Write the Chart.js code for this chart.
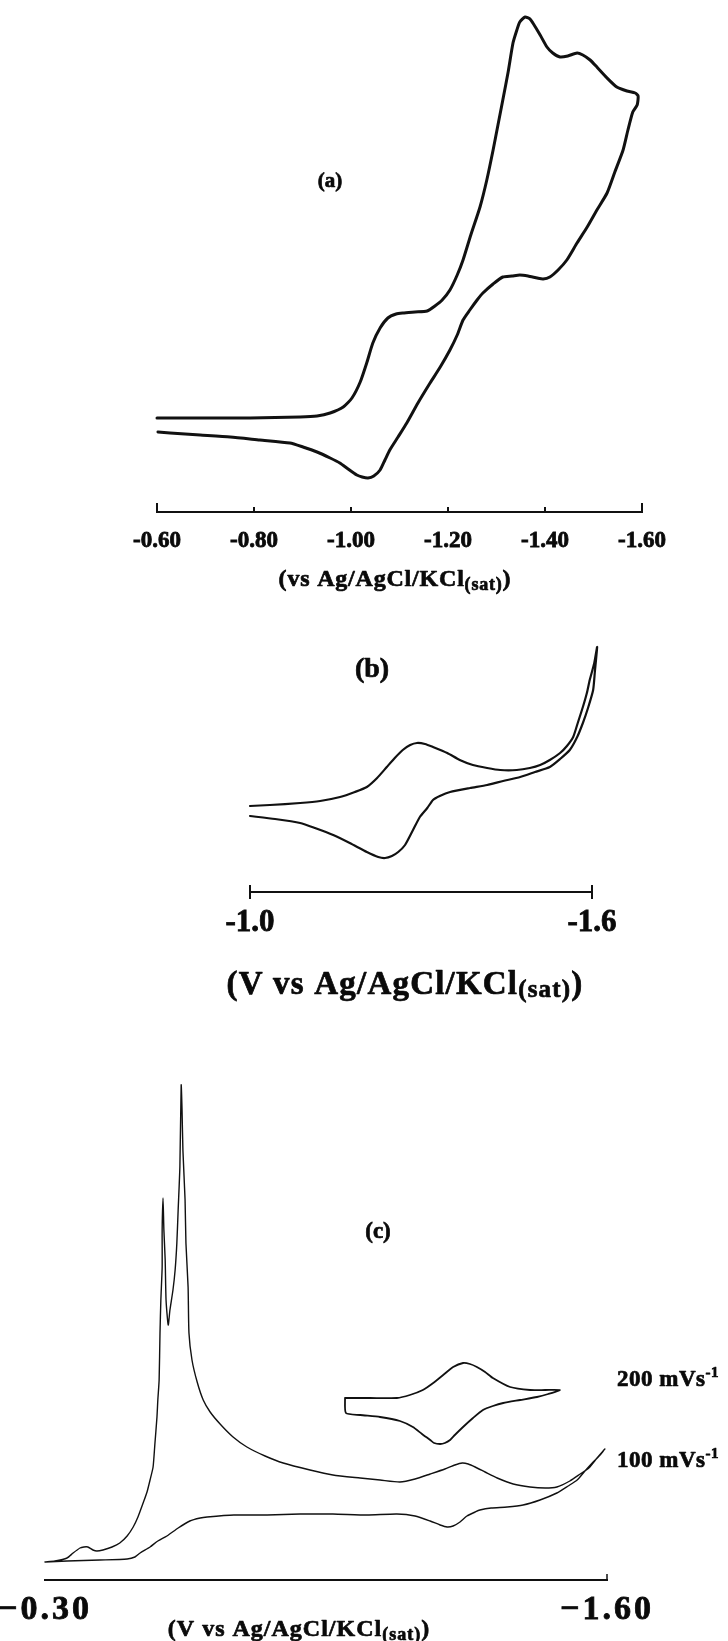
<!DOCTYPE html>
<html>
<head>
<meta charset="utf-8">
<script src="https://cdn.jsdelivr.net/npm/chart.js@4.4.1/dist/chart.umd.min.js"></script>
<style>
  html, body { margin: 0; padding: 0; background: #fff; }
  #page { position: relative; width: 728px; height: 1641px; overflow: hidden; background: #fff; }
  .panel { position: absolute; left: 0; width: 728px; }
  .panel canvas { display: block; }
</style>
</head>
<body>
<div id="page">
  <div class="panel" style="top:0px;height:600px"><canvas id="cvA" width="728" height="600"></canvas></div>
  <div class="panel" style="top:600px;height:410px"><canvas id="cvB" width="728" height="410"></canvas></div>
  <div class="panel" style="top:1010px;height:631px"><canvas id="cvC" width="728" height="631"></canvas></div>
</div>
<script>
// ---------- Panel (a): potential (V) and current (arbitrary units) ----------
const aTicks = [-0.6, -0.8, -1.0, -1.2, -1.4, -1.6];
// forward scan to -1.6 V, then return sweep
const aPotential = [
  -0.600, -0.689, -0.792, -0.895, -0.930, -0.957, -0.984, -1.002, -1.019, -1.033,
  -1.045, -1.060, -1.076, -1.093, -1.107, -1.132, -1.157, -1.173, -1.188, -1.204,
  -1.219, -1.231, -1.247, -1.266, -1.280, -1.293, -1.303, -1.313, -1.324, -1.334,
  -1.342, -1.348, -1.359, -1.369, -1.375, -1.390, -1.404, -1.416, -1.431, -1.447,
  -1.466, -1.478, -1.493, -1.507, -1.528, -1.548, -1.569, -1.586, -1.592,
  -1.590, -1.581, -1.571, -1.561, -1.544, -1.528, -1.507, -1.487, -1.466, -1.445,
  -1.427, -1.410, -1.396, -1.384, -1.365, -1.348, -1.332, -1.313, -1.293, -1.272,
  -1.260, -1.245, -1.231, -1.219, -1.204, -1.184, -1.163, -1.138, -1.115, -1.097,
  -1.080, -1.070, -1.060, -1.047, -1.035, -1.023, -1.012, -0.994, -0.977, -0.957,
  -0.930, -0.901, -0.874, -0.812, -0.751, -0.689, -0.627, -0.602
];
const aCurrent = [
  9.4, 9.4, 9.4, 9.5, 9.6, 9.9, 10.5, 11.4, 13.0, 15.0,
  16.9, 18.4, 19.4, 19.8, 19.9, 20.0, 20.1, 20.6, 21.2, 22.2,
  23.7, 25.2, 27.7, 30.5, 33.2, 36.2, 38.7, 41.2, 44.0, 46.9,
  48.2, 49.0, 49.5, 49.3, 48.9, 47.7, 46.5, 45.9, 45.5, 45.6,
  45.9, 45.7, 45.2, 44.5, 43.4, 42.5, 42.1, 41.9, 41.6,
  40.7, 40.0, 38.2, 36.2, 34.0, 31.9, 30.2, 28.5, 26.9, 25.2,
  24.2, 23.5, 23.3, 23.4, 23.6, 23.7, 23.6, 23.5, 22.8, 21.9,
  21.2, 20.2, 19.2, 17.7, 16.2, 14.5, 12.9, 10.9, 8.9, 7.5,
  6.2, 5.2, 4.2, 3.6, 3.4, 3.5, 3.7, 4.3, 4.9, 5.4,
  6.0, 6.5, 6.9, 7.2, 7.5, 7.7, 7.9, 8.0
];

// ---------- Panel (b) ----------
const bTicks = [-1.0, -1.6];
const bPotential = [
  -1.000, -1.035, -1.088, -1.123, -1.158, -1.184, -1.205, -1.223, -1.240, -1.254,
  -1.268, -1.281, -1.293, -1.307, -1.321, -1.346, -1.368, -1.391, -1.416, -1.439,
  -1.468, -1.491, -1.509, -1.526, -1.544, -1.556, -1.567, -1.575, -1.584, -1.591,
  -1.596, -1.604, -1.609,
  -1.605, -1.602, -1.593, -1.584, -1.574, -1.561, -1.544, -1.526, -1.500, -1.474,
  -1.444, -1.416, -1.386, -1.351, -1.333, -1.321, -1.311, -1.298, -1.286, -1.272,
  -1.260, -1.249, -1.237, -1.225, -1.205, -1.175, -1.146, -1.114, -1.088, -1.044,
  -1.000
];
const bCurrent = [
  8.6, 8.7, 8.9, 9.1, 9.5, 10.0, 10.5, 11.4, 12.5, 13.4,
  14.2, 14.7, 14.9, 14.8, 14.5, 13.9, 13.2, 12.7, 12.4, 12.2,
  12.2, 12.4, 12.7, 13.2, 13.9, 14.6, 15.5, 16.9, 18.5, 19.9,
  21.2, 22.9, 24.5,
  22.0, 20.2, 18.4, 16.9, 15.5, 14.2, 13.3, 12.5, 12.0, 11.5,
  11.1, 10.7, 10.4, 10.0, 9.6, 9.2, 8.4, 7.5, 6.2, 4.7,
  4.0, 3.6, 3.4, 3.5, 4.0, 4.9, 5.7, 6.4, 6.9, 7.3,
  7.6
];

// ---------- Panel (c): two scan rates ----------
const cTicks = [-0.3, -1.6];
const c100Potential = [
  -0.300, -0.351, -0.427, -0.490, -0.508, -0.520, -0.543, -0.561, -0.582, -0.608,
  -0.635, -0.659, -0.675, -0.737, -0.814, -0.890, -0.966, -1.045, -1.114, -1.156,
  -1.191, -1.214, -1.230, -1.244, -1.260, -1.276, -1.295, -1.306, -1.332, -1.369,
  -1.406, -1.445, -1.484, -1.510, -1.531, -1.549, -1.568, -1.584, -1.595,
  -1.577, -1.558, -1.538, -1.514, -1.484, -1.457, -1.422, -1.383, -1.346, -1.318,
  -1.295, -1.279, -1.265, -1.248, -1.225, -1.191, -1.156, -1.121, -1.075, -1.029,
  -0.966, -0.913, -0.851, -0.809, -0.767, -0.735, -0.705, -0.682, -0.666, -0.652,
  -0.640, -0.633, -0.631, -0.626, -0.624, -0.619, -0.617, -0.615,
  -0.612, -0.608, -0.605, -0.601, -0.596, -0.589, -0.585,
  -0.580, -0.578, -0.575, -0.573,
  -0.571, -0.571, -0.568, -0.566, -0.564, -0.561, -0.559, -0.554, -0.550, -0.543,
  -0.536, -0.527, -0.515, -0.504, -0.490, -0.473, -0.455, -0.434, -0.420, -0.411,
  -0.399, -0.390, -0.381, -0.365, -0.351, -0.323, -0.300
];
const c100Current = [
  1.8, 1.9, 2.0, 2.1, 2.3, 2.7, 3.3, 3.9, 4.4, 5.2,
  5.9, 6.2, 6.3, 6.5, 6.5, 6.6, 6.6, 6.5, 6.6, 6.4,
  5.9, 5.5, 5.3, 5.4, 5.8, 6.4, 6.8, 7.0, 7.2, 7.3,
  7.5, 8.0, 8.7, 9.4, 10.0, 10.9, 11.8, 12.5, 13.1,
  12.2, 11.2, 10.6, 9.9, 9.3, 9.2, 9.3, 9.6, 10.2, 10.8,
  11.3, 11.6, 11.7, 11.5, 11.1, 10.6, 10.1, 9.8, 10.0, 10.2,
  10.5, 11.0, 11.7, 12.4, 13.3, 14.3, 15.6, 16.8, 18.0, 19.8,
  22.0, 24.7, 29.3, 33.7, 38.0, 43.0, 47.0, 49.5,
  41.3, 37.0, 33.7, 31.0, 29.0, 27.0, 25.5,
  28.0, 32.0, 35.0, 38.2,
  35.0, 31.3, 28.0, 24.7, 20.0, 18.0, 16.3, 13.5, 11.3, 10.0,
  8.8, 7.7, 6.3, 5.3, 4.4, 3.7, 3.3, 3.0, 2.9, 3.0,
  3.3, 3.3, 3.2, 2.7, 2.2, 1.9, 1.8
];
const c200Potential = [
  -0.994, -1.052, -1.114, -1.144, -1.174, -1.198, -1.221, -1.244, -1.267, -1.283,
  -1.299, -1.318, -1.336, -1.376, -1.422, -1.457, -1.491,
  -1.464, -1.438, -1.399, -1.360, -1.336, -1.313, -1.290, -1.267, -1.248, -1.237,
  -1.225, -1.214, -1.200, -1.191, -1.172, -1.151, -1.121, -1.075, -1.029, -0.996,
  -0.994
];
const c200Current = [
  18.2, 18.2, 18.2, 18.5, 19.0, 19.7, 20.5, 21.3, 21.7, 21.6,
  21.3, 20.8, 20.2, 19.3, 19.0, 19.0, 19.0,
  18.6, 18.3, 18.0, 17.7, 17.4, 17.0, 16.2, 15.3, 14.5, 14.0,
  13.7, 13.6, 13.7, 14.0, 14.6, 15.3, 15.9, 16.3, 16.5, 16.7,
  18.2
];

// ---------- text drawn on the panels ----------
const SERIF = '"Liberation Serif", "Times New Roman", serif';
const INK = '#0a0a0a';
const labelA = '(a)', labelB = '(b)', labelC = '(c)';
const refMain = 'vs Ag/AgCl/KCl';
const refSub = '(sat)';
const rate200 = '200 mVs', rate100 = '100 mVs', rateUnitSup = '-1';

function pts(xs, ys) { return xs.map((x, i) => ({ x: x, y: ys[i] })); }

// heavy serif text made of runs (for sub- and superscripts)
function drawRich(ctx, segs, x, y, spacing, align) {
  ctx.save();
  ctx.fillStyle = INK;
  ctx.strokeStyle = INK;
  ctx.lineWidth = 0.7;
  ctx.lineJoin = 'round';
  ctx.textBaseline = 'middle';
  ctx.textAlign = 'left';
  ctx.letterSpacing = spacing + 'px';
  let total = 0;
  segs.forEach(s => { ctx.font = 'bold ' + s.size + 'px ' + SERIF; s.w = ctx.measureText(s.t).width; total += s.w; });
  let cx = align === 'left' ? x : x - total / 2;
  segs.forEach(s => {
    ctx.font = 'bold ' + s.size + 'px ' + SERIF;
    ctx.fillText(s.t, cx, y + (s.dy || 0));
    ctx.strokeText(s.t, cx, y + (s.dy || 0));
    cx += s.w;
  });
  ctx.restore();
}

function xScale(min, max, ticks, fmt, fontSize, pad, axisH, borderW) {
  return {
    type: 'linear', position: 'bottom', reverse: true, min: min, max: max,
    grid: { display: false, drawTicks: false },
    border: { display: true, color: '#111', width: borderW },
    ticks: {
      autoSkip: false, maxRotation: 0, padding: pad, color: INK,
      textStrokeColor: INK, textStrokeWidth: 0.8,
      font: { family: SERIF, weight: 'bold', size: fontSize },
      callback: fmt
    },
    afterBuildTicks: s => { s.ticks = ticks.map(v => ({ value: v })); },
    afterFit: s => { s.height = axisH; s.paddingLeft = 0; s.paddingRight = 0; }
  };
}

function curve(data, width) {
  return {
    data: data, showLine: true, fill: false, pointRadius: 0, borderColor: '#111',
    borderWidth: width, tension: 0.2, clip: false, borderJoinStyle: 'round', borderCapStyle: 'round'
  };
}

const base = {
  responsive: false, animation: false, events: [],
  plugins: { legend: { display: false }, tooltip: { enabled: false } }
};

// tick marks drawn at the scale's own tick positions
function tickMarks(fn) {
  return { id: 'tickMarks', afterDraw(chart) { fn(chart.ctx, chart.scales.x, chart.chartArea); } };
}
function decor(fn) { return { id: 'decor', afterDraw(chart) { fn(chart.ctx, chart); } }; }

// ----- chart (a) -----
new Chart(document.getElementById('cvA'), {
  type: 'scatter',
  data: { datasets: [curve(pts(aPotential, aCurrent), 3)] },
  options: Object.assign({}, base, {
    layout: { padding: { left: 157, right: 728 - 642, top: 12, bottom: 600 - 512 - 50 } },
    scales: {
      x: xScale(-1.6, -0.6, aTicks, v => v.toFixed(2), 23, 15, 50, 2),
      y: { display: false, min: 0, max: 50 }
    }
  }),
  plugins: [
    tickMarks((ctx, sx, area) => {
      ctx.save(); ctx.strokeStyle = '#111'; ctx.lineWidth = 2;
      aTicks.forEach((v, i) => {
        const px = sx.getPixelForValue(v);
        const h = (i === 0 || i === aTicks.length - 1) ? 9 : 5;
        ctx.beginPath(); ctx.moveTo(px, area.bottom); ctx.lineTo(px, area.bottom - h); ctx.stroke();
      });
      ctx.restore();
    }),
    decor(ctx => {
      drawRich(ctx, [{ t: labelA, size: 21 }], 330, 182, 0);
      drawRich(ctx, [{ t: '(' + refMain, size: 24 }, { t: refSub, size: 18, dy: 5 }, { t: ')', size: 24 }], 395, 580, 0.8);
    })
  ]
});

// ----- chart (b) -----
new Chart(document.getElementById('cvB'), {
  type: 'scatter',
  data: { datasets: [curve(pts(bPotential, bCurrent), 2.2)] },
  options: Object.assign({}, base, {
    layout: { padding: { left: 250, right: 728 - 592, top: 32, bottom: 410 - 292 - 50 } },
    scales: {
      x: xScale(-1.6, -1.0, bTicks, v => v.toFixed(1), 31, 12, 50, 2),
      y: { display: false, min: 0, max: 26 }
    }
  }),
  plugins: [
    tickMarks((ctx, sx, area) => {
      ctx.save(); ctx.strokeStyle = '#111'; ctx.lineWidth = 2;
      bTicks.forEach(v => {
        const px = sx.getPixelForValue(v);
        ctx.beginPath(); ctx.moveTo(px, area.bottom - 7); ctx.lineTo(px, area.bottom + 7); ctx.stroke();
      });
      ctx.restore();
    }),
    decor(ctx => {
      drawRich(ctx, [{ t: labelB, size: 28 }], 372, 70, 0);
      drawRich(ctx, [{ t: '(V ' + refMain, size: 33 }, { t: refSub, size: 25, dy: 6 }, { t: ')', size: 33 }], 405, 385, 1.2);
    })
  ]
});

// ----- chart (c) -----
new Chart(document.getElementById('cvC'), {
  type: 'scatter',
  data: { datasets: [curve(pts(c100Potential, c100Current), 1.4), curve(pts(c200Potential, c200Current), 1.8)] },
  options: Object.assign({}, base, {
    layout: { padding: { left: 45, right: 728 - 607, top: 70, bottom: 631 - 570 - 40 } },
    scales: {
      x: xScale(-1.6, -0.3, cTicks, v => '\u2212' + Math.abs(v).toFixed(2), 34, 10, 40, 2),
      y: { display: false, min: 0, max: 50 }
    }
  }),
  plugins: [
    { id: 'wideTicks', beforeDraw(chart) { chart.ctx.letterSpacing = '3px'; }, beforeDatasetsDraw(chart) { chart.ctx.letterSpacing = '0px'; } },
    tickMarks((ctx, sx, area) => {
      ctx.save(); ctx.strokeStyle = '#111'; ctx.lineWidth = 1.5;
      const px = sx.getPixelForValue(cTicks[1]);
      ctx.beginPath(); ctx.moveTo(px, area.bottom); ctx.lineTo(px, area.bottom - 6); ctx.stroke();
      ctx.restore();
    }),
    decor(ctx => {
      drawRich(ctx, [{ t: labelC, size: 23 }], 378, 222, 0);
      drawRich(ctx, [{ t: '(V ' + refMain, size: 24 }, { t: refSub, size: 18, dy: 5 }, { t: ')', size: 24 }], 299, 620, 1);
      drawRich(ctx, [{ t: rate200, size: 23 }, { t: rateUnitSup, size: 15, dy: -7 }], 617, 370, 0.5, 'left');
      drawRich(ctx, [{ t: rate100, size: 23 }, { t: rateUnitSup, size: 15, dy: -7 }], 617, 451, 0.5, 'left');
    })
  ]
});
</script>
</body>
</html>
